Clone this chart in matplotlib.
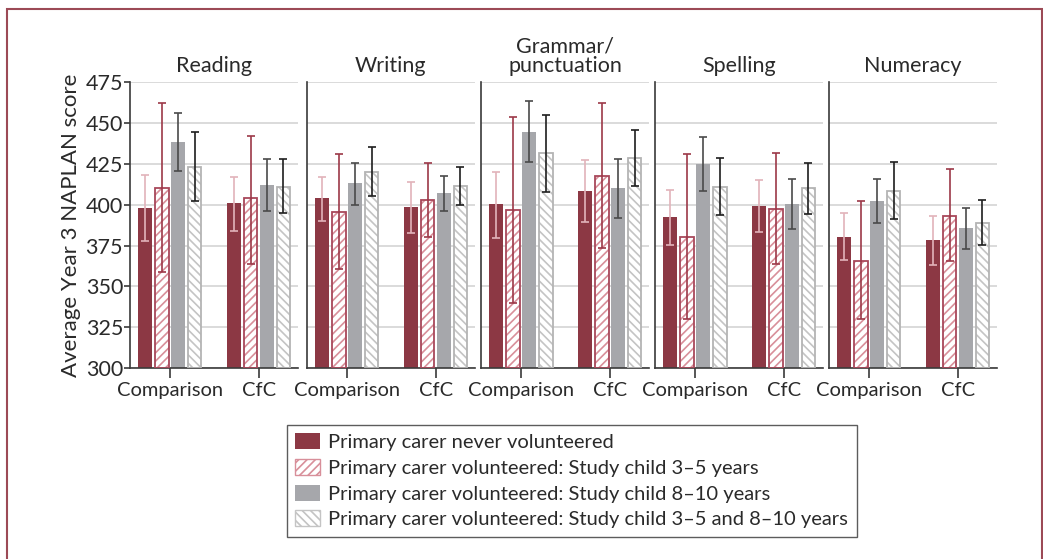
import numpy as np
import matplotlib
matplotlib.use("Agg")
import matplotlib.pyplot as plt
from matplotlib.patches import Rectangle, Patch

plt.rcParams['font.family'] = ['Lato', 'DejaVu Sans']
plt.rcParams['hatch.linewidth'] = 1.2

subjects = ['Reading', 'Writing', 'Grammar/\npunctuation', 'Spelling', 'Numeracy']
groups = ['Comparison', 'CfC']
series_names = ['Primary carer never volunteered',
                'Primary carer volunteered: Study child 3\u20135 years',
                'Primary carer volunteered: Study child 8\u201310 years',
                'Primary carer volunteered: Study child 3\u20135 and 8\u201310 years']

# per subject: [Comparison, CfC]
never_mean = [[398, 401], [404, 398.5], [400.3, 408.3], [392.2, 399.3], [380.2, 378.3]]
never_lo = [[378, 384], [390, 382.6], [379.8, 389.3], [375.3, 383], [365.9, 363.1]]
never_hi = [[418, 417], [417, 414], [420, 427], [409, 415], [394.6, 392.8]]

early_mean = [[410, 404], [395.6, 402.6], [396.5, 417.6], [380.4, 397.3], [365.7, 393.2]]
early_lo = [[359, 364], [360.4, 380.4], [340, 373.7], [330.3, 363.7], [330, 365.3]]
early_hi = [[462, 442], [431, 425.6], [453.4, 462], [431, 431.5], [402, 421.9]]

late_mean = [[438, 412], [413, 406.8], [444.3, 410], [425, 400.3], [402.2, 385.7]]
late_lo = [[420.5, 396], [400, 395.8], [425.8, 392], [408.3, 385], [388.9, 372.6]]
late_hi = [[455.7, 428], [425.6, 417.6], [463, 427.6], [441.2, 415.8], [415.6, 397.9]]

both_mean = [[423, 411], [419.7, 411.3], [431.3, 428.4], [410.7, 409.9], [408.5, 388.9]]
both_lo = [[402.4, 395], [405, 400], [407.9, 411.5], [393.6, 394.4], [391.2, 375.1]]
both_hi = [[444.5, 428], [435, 422.7], [454.7, 445.3], [428.4, 425.6], [426, 403]]

means = [never_mean, early_mean, late_mean, both_mean]
los = [never_lo, early_lo, late_lo, both_lo]
his = [never_hi, early_hi, late_hi, both_hi]

maroon = '#8c3844'
grey = '#a6a7ab'
# face, hatch colour, edge colour, hatch, error colour
styles = [
    (maroon, None, maroon, '', '#e2b3ba'),
    ('white', '#d88f9a', '#a8485a', '////', '#9c3848'),
    (grey, None, grey, '', '#4a4a4a'),
    ('white', '#c4c4c4', '#b4b4b4', '\\\\\\\\', '#1e1e1e'),
]
txt = '#2a2a2a'

fig = plt.figure(figsize=(10.43, 5.59), dpi=100)

lefts = [0.1246, 0.2943, 0.4612, 0.628, 0.7948]
bar_w = 0.155
step = 0.185
x = np.arange(len(groups))

for i, subj in enumerate(subjects):
    ax = fig.add_axes([lefts[i], 0.341, 0.161, 0.5127])
    for s in range(4):
        face, hcol, ecol, hatch, errcol = styles[s]
        xs = x + (s - 1.5) * step
        m = np.array(means[s][i])
        lo = np.array(los[s][i])
        hi = np.array(his[s][i])
        if hatch:
            ax.bar(xs, m - 300, bottom=300, width=bar_w, color=face,
                   edgecolor=hcol, hatch=hatch, linewidth=0, zorder=2)
            ax.bar(xs, m - 300, bottom=300, width=bar_w, fill=False,
                   edgecolor=ecol, linewidth=1.3, zorder=3)
        else:
            ax.bar(xs, m - 300, bottom=300, width=bar_w, color=face,
                   linewidth=0, zorder=2)
        ax.errorbar(xs, m, yerr=[m - lo, hi - m], fmt='none', ecolor=errcol,
                    elinewidth=1.2, capsize=3, capthick=1.2, zorder=4)
    ax.set_ylim(300, 475)
    ax.set_xlim(-0.45, 1.44)
    ax.set_yticks(np.arange(300, 476, 25))
    ax.yaxis.grid(True, color='#d4d4d4', linewidth=1.2, zorder=0)
    ax.set_axisbelow(True)
    for sp in ['top', 'right']:
        ax.spines[sp].set_visible(False)
    for sp in ['left', 'bottom']:
        ax.spines[sp].set_color('#3a3a3a')
        ax.spines[sp].set_linewidth(1.2)
    ax.set_xticks(x)
    ax.set_xticklabels(groups, fontsize=14.5, color=txt)
    ax.tick_params(axis='x', length=7, width=1.2, color='#3a3a3a', pad=3)
    if i == 0:
        ax.tick_params(axis='y', length=4, width=1.2, color='#3a3a3a',
                       labelsize=15.5, labelcolor=txt, pad=1)
        ax.set_ylabel('Average Year 3 NAPLAN score', fontsize=16,
                      color=txt, labelpad=3)
    else:
        ax.tick_params(axis='y', length=0, labelleft=False)
    ax.set_title(subj, fontsize=15.5, color=txt, pad=7, linespacing=0.95)

handles = []
for s in range(4):
    face, hcol, ecol, hatch, errcol = styles[s]
    if hatch:
        handles.append(Patch(facecolor=face, edgecolor=hcol, hatch=hatch, linewidth=1.0))
    else:
        handles.append(Patch(facecolor=face, edgecolor=face, linewidth=0))
leg = fig.legend(handles, series_names, loc='upper center', bbox_to_anchor=(0.548, 0.24),
                 fontsize=14.5, frameon=True, fancybox=False, edgecolor='#333333',
                 handlelength=1.25, handleheight=0.85, handletextpad=0.4,
                 labelspacing=0.38, borderpad=0.42, borderaxespad=0)
leg.get_frame().set_linewidth(1.0)
for t in leg.get_texts():
    t.set_color(txt)

border = Rectangle((7 / 1043, -0.05), 1034.5 / 1043, 1 - 9 / 559 + 0.05,
                   transform=fig.transFigure, fill=False, edgecolor='#9c4a56',
                   linewidth=1.5, clip_on=False)
fig.patches.append(border)

fig.savefig('out.png', dpi=100)
